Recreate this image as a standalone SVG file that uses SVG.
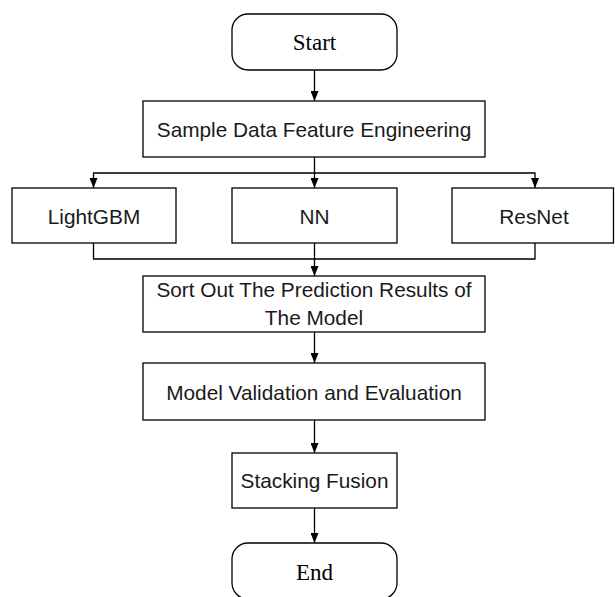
<svg xmlns="http://www.w3.org/2000/svg" width="615" height="597" viewBox="0 0 615 597">
<style>
.box{fill:#fff;stroke:#000;stroke-width:1.3}
.t{font-family:"Liberation Sans",Arial,sans-serif;font-size:20.8px;fill:#1a1a1a;text-anchor:middle}
.s{font-family:"Liberation Serif","Times New Roman",serif;font-size:23px;fill:#000;text-anchor:middle}
.c{fill:none;stroke:#000;stroke-width:1.3}
</style>
<defs>
<marker id="arr" markerUnits="userSpaceOnUse" markerWidth="10" markerHeight="8" refX="10" refY="4" orient="auto">
<path d="M0,0 L10,4 L0,8 z" fill="#000"/>
</marker>
</defs>
<rect width="615" height="597" fill="#fff"/>
<g id="connectors">
<line class="c" x1="314.5" y1="70" x2="314.5" y2="101" marker-end="url(#arr)"/>
<polyline class="c" points="314.5,157 314.5,188" marker-end="url(#arr)"/>
<polyline class="c" points="314.5,173 93.5,173 93.5,188" marker-end="url(#arr)"/>
<polyline class="c" points="314.5,173 535,173 535,188" marker-end="url(#arr)"/>
<polyline class="c" points="93.5,243 93.5,259 535,259 535,243"/>
<line class="c" x1="314.5" y1="243" x2="314.5" y2="276" marker-end="url(#arr)"/>
<line class="c" x1="314.5" y1="332" x2="314.5" y2="363" marker-end="url(#arr)"/>
<line class="c" x1="314.5" y1="420" x2="314.5" y2="453" marker-end="url(#arr)"/>
<line class="c" x1="314.5" y1="508" x2="314.5" y2="543" marker-end="url(#arr)"/>
</g>
<g id="start">
<rect class="box" x="232" y="14" width="165" height="56" rx="16" ry="16"/>
<text class="s" x="314.5" y="49.5">Start</text>
</g>
<g id="feature">
<rect class="box" x="143" y="101" width="342" height="56"/>
<text class="t" x="314" y="137">Sample Data Feature Engineering</text>
</g>
<g id="lightgbm">
<rect class="box" x="12" y="188" width="164" height="55"/>
<text class="t" x="94" y="223.5">LightGBM</text>
</g>
<g id="nn">
<rect class="box" x="232" y="188" width="165" height="55"/>
<text class="t" x="314.5" y="223.5">NN</text>
</g>
<g id="resnet">
<rect class="box" x="452" y="188" width="161.5" height="55"/>
<text class="t" x="534" y="223.5">ResNet</text>
</g>
<g id="sort">
<rect class="box" x="143" y="276" width="342" height="56"/>
<text class="t" x="314" y="297">Sort Out The Prediction Results of</text>
<text class="t" x="314" y="325">The Model</text>
</g>
<g id="validation">
<rect class="box" x="143" y="363" width="342" height="57"/>
<text class="t" x="314" y="399.5">Model Validation and Evaluation</text>
</g>
<g id="stacking">
<rect class="box" x="232" y="453" width="165" height="55"/>
<text class="t" x="314.5" y="488">Stacking Fusion</text>
</g>
<g id="end">
<rect class="box" x="232" y="543" width="165" height="56" rx="16" ry="16"/>
<text class="s" x="314.5" y="580">End</text>
</g>
</svg>
